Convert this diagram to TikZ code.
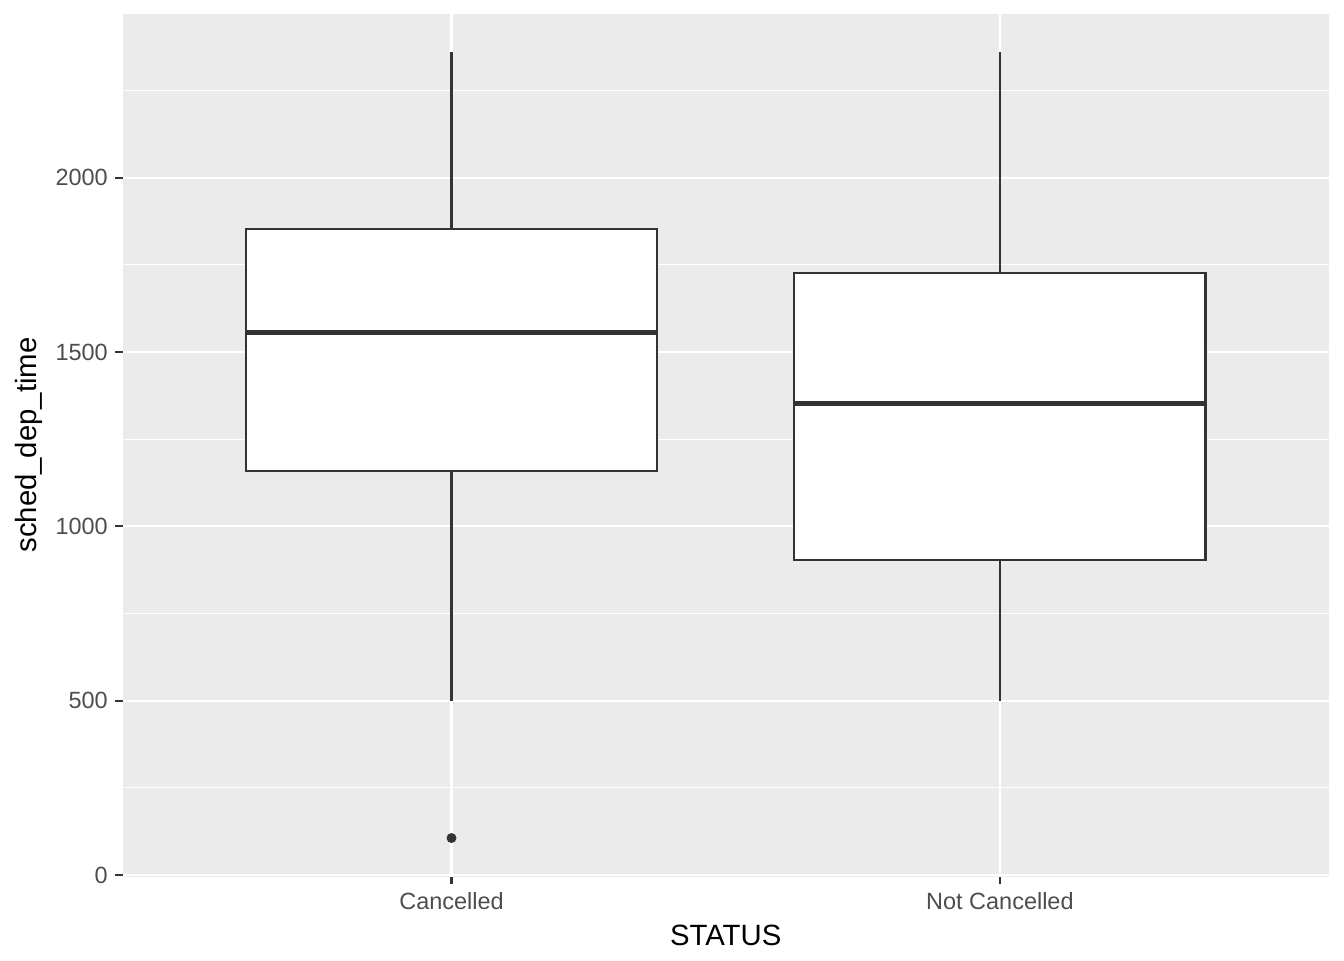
\documentclass[tikz,border=0pt]{standalone}
\usepackage{fontspec}
\setmainfont{Liberation Sans}
\definecolor{panelgrey}{HTML}{EBEBEB}
\definecolor{boxline}{HTML}{333333}
\definecolor{ticktext}{HTML}{4D4D4D}
\tikzstyle{panel}=[fill=panelgrey]
\tikzstyle{majorgrid}=[draw=white,line width=1.6pt]
\tikzstyle{minorgrid}=[draw=white,line width=0.8pt]
\tikzstyle{whisker}=[draw=boxline,line width=1.6pt]
\tikzstyle{iqrbox}=[draw=boxline,fill=white,line width=1.6pt]
\tikzstyle{medianline}=[draw=boxline,line width=3.6pt]
\tikzstyle{tickmark}=[draw=boxline,line width=1.6pt]
\tikzstyle{ticklabel}=[text=ticktext,font=\fontsize{17.6}{20}\selectfont,inner sep=0pt]
\tikzstyle{axistitle}=[text=black,font=\fontsize{22}{26}\selectfont,inner sep=0pt]
\tikzstyle{outlier}=[circle,fill=boxline,minimum size=7.5pt,inner sep=0pt]

\begin{document}
\begin{tikzpicture}[x=0.75pt,y=0.75pt]
	\useasboundingbox (0,0) rectangle (1344,960);
	% data scope: y in minutes of sched_dep_time
	\begin{scope}[shift={(0,85)},yscale=0.34867]
		\path[panel] (122.5,-6) rectangle (1329,2470);
		% grid lines
		\foreach \v in {250,750,1250,1750,2250}
			\path[minorgrid] (122.5,\v) -- (1329,\v);
		\foreach \v in {0,500,1000,1500,2000}
			\path[majorgrid] (122.5,\v) -- (1329,\v);
		\foreach \xc in {451.5,999.9}
			\path[majorgrid] (\xc,-6) -- (\xc,2470);
		% boxes and whiskers
		\foreach \name/\xc/\lo/\qa/\med/\qb/\hi in {canc/451.5/500/1159.6/1556.5/1853.6/2359, notc/999.9/500/904.4/1352.6/1727.4/2359}
		{
			\coordinate (\name-lo) at (\xc,\lo);
			\coordinate (\name-qa) at (\xc,\qa);
			\coordinate (\name-qb) at (\xc,\qb);
			\coordinate (\name-hi) at (\xc,\hi);
			\path[whisker] (\name-qb) -- (\name-hi);
			\path[whisker] (\name-qa) -- (\name-lo);
			\path[iqrbox] (\xc-205.6,\qa) rectangle (\xc+205.6,\qb);
			\path[medianline] (\xc-205.6,\med) -- (\xc+205.6,\med);
		}
		\node[outlier] (canc-out) at (451.5,106) {};
		% y axis
		\foreach \v in {0,500,1000,1500,2000}
		{
			\path[tickmark] (115,\v) -- (122.5,\v);
			\node[ticklabel,anchor=east] (ytick-\v) at (108,\v) {\v};
		}
		% x axis ticks
		\foreach \xc in {451.5,999.9}
			\path[tickmark] (\xc,-6) -- (\xc,-27);
	\end{scope}
	\node[ticklabel,anchor=base] (xtick-canc) at (451.5,51) {Cancelled};
	\node[ticklabel,anchor=base] (xtick-notc) at (999.9,51) {Not Cancelled};
	\node[axistitle,anchor=base] (xtitle) at (725.7,14.5) {STATUS};
	\node[axistitle,anchor=base,rotate=90] (ytitle) at (36.5,515) {sched\_dep\_time};
\end{tikzpicture}
\end{document}
